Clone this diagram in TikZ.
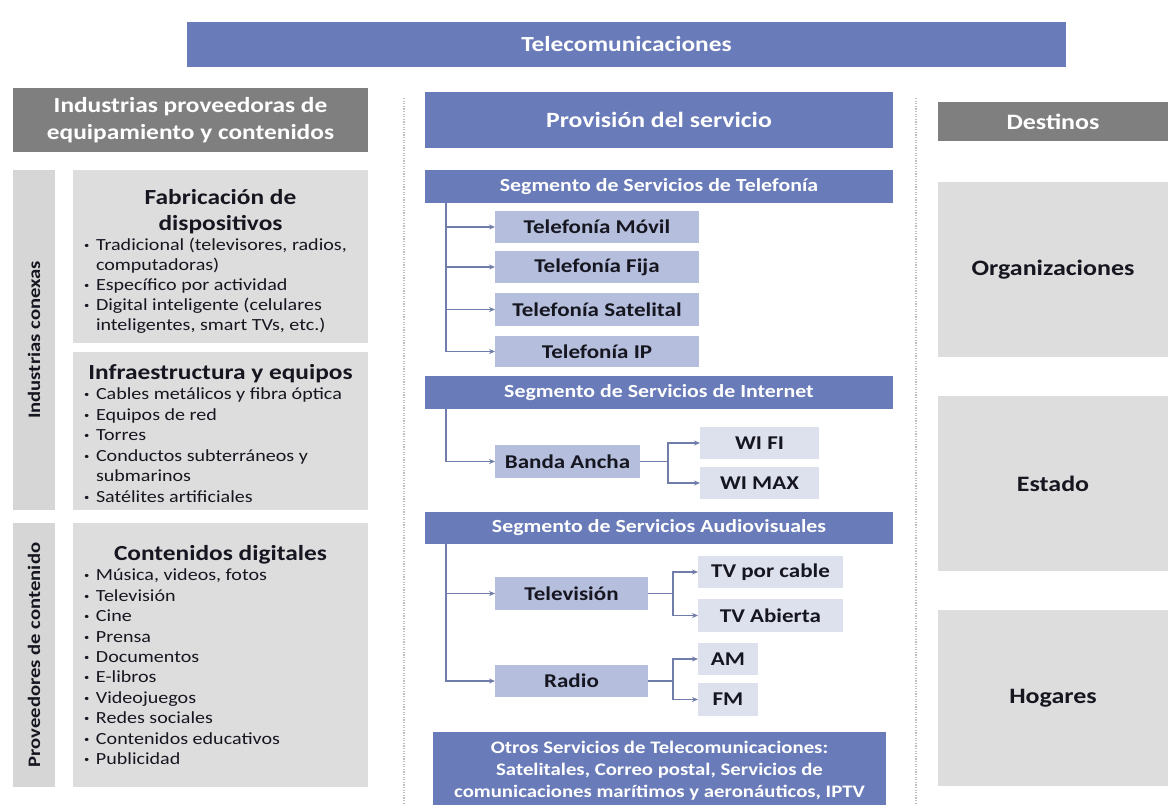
\documentclass[tikz,border=0pt]{standalone}
\usepackage{fontspec}
\setmainfont{Carlito}[FakeStretch=1.18]
\usetikzlibrary{arrows.meta}

\definecolor{hdrblue}{RGB}{105,123,184}
\definecolor{hdrgray}{RGB}{127,127,127}
\definecolor{panel}{RGB}{221,221,221}
\definecolor{sidebar}{RGB}{214,214,214}
\definecolor{itemblue}{RGB}{181,190,220}
\definecolor{itemlight}{RGB}{221,225,237}
\definecolor{connblue}{RGB}{112,124,170}
\definecolor{ink}{RGB}{22,22,32}
\definecolor{dotgray}{RGB}{190,190,190}

% bullet line with hanging indent (use \newline for continuation lines)
\newcommand{\bitem}[1]{\par\noindent\hangindent=12pt\hangafter=1%
  \makebox[12pt][l]{\raisebox{0.12em}{\fontsize{9}{9}\selectfont\textbullet}}#1}

\tikzset{
  boxbase/.style={anchor=north west, inner sep=0pt, outer sep=0pt, align=center},
  bluehdr/.style={boxbase, fill=hdrblue, text=white, font=\bfseries},
  grayhdr/.style={boxbase, fill=hdrgray, text=white, font=\bfseries},
  panelbox/.style={boxbase, fill=panel, text=ink},
  sidebox/.style={boxbase, fill=sidebar, text=ink},
  itembox/.style={boxbase, fill=itemblue, text=ink, font=\fontsize{19.5}{22}\selectfont\bfseries},
  leafbox/.style={boxbase, fill=itemlight, text=ink, font=\fontsize{19.5}{22}\selectfont\bfseries},
  seghdr/.style={bluehdr, minimum width=468pt, font=\fontsize{18.5}{22}\selectfont\bfseries},
  destbox/.style={panelbox, minimum width=230pt, font=\fontsize{22}{26}\selectfont\bfseries},
  sidelabel/.style={rotate=90, text=ink, font=\fontsize{17.5}{20}\selectfont\bfseries},
  conn/.style={draw=connblue, line width=1.5pt},
  arr/.style={conn, -{Stealth[length=6pt,width=5pt]}},
  divider/.style={draw=dotgray, line width=2.5pt, dash pattern=on 1.2pt off 1.4pt}
}

\begin{document}
\begin{tikzpicture}[x=1pt, y=-1pt]
\useasboundingbox (0,0) rectangle (1168,804);
\fill[white] (0,0) rectangle (1168,804);

% column dividers
\draw[divider] (404,98) -- (404,804);
\draw[divider] (916,98) -- (916,804);

% title
\node[bluehdr, minimum width=879pt, minimum height=45pt,
      font=\fontsize{21.5}{24}\selectfont\bfseries] (tele) at (187,22) {Telecomunicaciones};

% ---------- left column ----------
\node[grayhdr, minimum width=355pt, minimum height=64pt,
      font=\fontsize{21.5}{27}\selectfont\bfseries] (indhdr) at (13,88)
      {Industrias proveedoras de\\equipamiento y contenidos};

\node[sidebox, minimum width=42pt, minimum height=340pt] (conexas) at (13,170) {};
\node[sidelabel] (conexaslbl) at (conexas.center) {Industrias conexas};

\node[sidebox, minimum width=42pt, minimum height=264pt] (provee) at (13,523) {};
\node[sidelabel] (proveelbl) at (provee.center) {Proveedores de contenido};

\node[panelbox, minimum width=295pt, minimum height=173pt] (fab) at (73,170)
{\begin{minipage}{273pt}\raggedright
  \vspace*{10pt}
  {\centering\fontsize{21.5}{26}\selectfont\bfseries Fabricación de\\dispositivos\par}
  \fontsize{17}{20}\selectfont
  \bitem{Tradicional (televisores, radios,\newline computadoras)}
  \bitem{Específico por actividad}
  \bitem{Digital inteligente (celulares\newline inteligentes, smart TVs, etc.)}\par
\end{minipage}};

\node[panelbox, minimum width=295pt, minimum height=158pt] (infra) at (73,352)
{\begin{minipage}{273pt}\raggedright
  \vspace*{5pt}
  {\centering\fontsize{21.5}{26}\selectfont\bfseries Infraestructura y equipos\par}
  \fontsize{17}{20.5}\selectfont
  \bitem{Cables metálicos y fibra óptica}
  \bitem{Equipos de red}
  \bitem{Torres}
  \bitem{Conductos subterráneos y\newline submarinos}
  \bitem{Satélites artificiales}\par
\end{minipage}};

\node[panelbox, minimum width=295pt, minimum height=264pt] (conten) at (73,523)
{\begin{minipage}{273pt}\raggedright
  {\centering\fontsize{21.5}{26}\selectfont\bfseries Contenidos digitales\par}
  \fontsize{17}{20.4}\selectfont
  \bitem{Música, videos, fotos}
  \bitem{Televisión}
  \bitem{Cine}
  \bitem{Prensa}
  \bitem{Documentos}
  \bitem{E-libros}
  \bitem{Videojuegos}
  \bitem{Redes sociales}
  \bitem{Contenidos educativos}
  \bitem{Publicidad}\par
\end{minipage}};

% ---------- middle column ----------
\node[bluehdr, minimum width=468pt, minimum height=56pt,
      font=\fontsize{21.8}{24}\selectfont\bfseries] (provhdr) at (425,92) {Provisión del servicio};

% telephony
\node[seghdr, minimum height=33pt] (segtel) at (425,170) {Segmento de Servicios de Telefonía};
\node[itembox, minimum width=204pt, minimum height=32pt] (movil) at (495,211) {Telefonía Móvil};
\node[itembox, minimum width=204pt, minimum height=32pt] (fija)  at (495,251) {Telefonía Fija};
\node[itembox, minimum width=204pt, minimum height=33pt] (satel) at (495,293) {Telefonía Satelital};
\node[itembox, minimum width=204pt, minimum height=31pt] (tip)   at (495,336) {Telefonía IP};

\draw[arr] ([xshift=21pt]segtel.south west) |- (movil.west);
\draw[arr] ([xshift=21pt]segtel.south west) |- (fija.west);
\draw[arr] ([xshift=21pt]segtel.south west) |- (satel.west);
\draw[arr] ([xshift=21pt]segtel.south west) |- (tip.west);

% internet
\node[seghdr, minimum height=33pt] (segint) at (425,376) {Segmento de Servicios de Internet};
\node[itembox, minimum width=145pt, minimum height=33pt] (banda) at (495,445) {Banda Ancha};
\node[leafbox, minimum width=119pt, minimum height=32pt] (wifi)  at (700,427) {WI FI};
\node[leafbox, minimum width=119pt, minimum height=32pt] (wimax) at (700,467) {WI MAX};

\draw[arr] ([xshift=21pt]segint.south west) |- (banda.west);
\draw[conn] (banda.east) -- ([xshift=28pt]banda.east) coordinate (bandaj);
\draw[arr] (bandaj) |- (wifi.west);
\draw[arr] (bandaj) |- (wimax.west);

% audiovisual
\node[seghdr, minimum height=32pt] (segav) at (425,512) {Segmento de Servicios Audiovisuales};
\node[itembox, minimum width=153pt, minimum height=33pt] (tv)    at (495,577) {Televisión};
\node[itembox, minimum width=153pt, minimum height=32pt] (radio) at (495,665) {Radio};
\node[leafbox, minimum width=145pt, minimum height=32pt] (tvcab) at (698,556) {TV por cable};
\node[leafbox, minimum width=145pt, minimum height=33pt] (tvab)  at (698,599) {TV Abierta};
\node[leafbox, minimum width=60pt,  minimum height=32pt] (am)    at (698,643) {AM};
\node[leafbox, minimum width=60pt,  minimum height=33pt] (fm)    at (698,683) {FM};

\draw[arr] ([xshift=21pt]segav.south west) |- (tv.west);
\draw[arr] ([xshift=21pt]segav.south west) |- (radio.west);
\draw[conn] (tv.east) -- ([xshift=25pt]tv.east) coordinate (tvj);
\draw[arr] (tvj) |- (tvcab.west);
\draw[arr] (tvj) |- (tvab.west);
\draw[conn] (radio.east) -- ([xshift=25pt]radio.east) coordinate (radioj);
\draw[arr] (radioj) |- (am.west);
\draw[arr] (radioj) |- (fm.west);

% other services (runs past the lower edge)
\node[bluehdr, minimum width=453pt, minimum height=78pt,
      font=\fontsize{17.6}{22}\selectfont\bfseries] (otros) at (433,732)
      {Otros Servicios de Telecomunicaciones:\\Satelitales, Correo postal, Servicios de\\comunicaciones marítimos y aeronáuticos, IPTV};

% ---------- right column ----------
\node[grayhdr, minimum width=230pt, minimum height=39pt,
      font=\fontsize{22}{26}\selectfont\bfseries] (dest) at (938,102) {Destinos};
\node[destbox, minimum height=175pt] (org)    at (938,182) {Organizaciones};
\node[destbox, minimum height=175pt] (estado) at (938,396) {Estado};
\node[destbox, minimum height=176pt] (hogar)  at (938,610) {Hogares};
\end{tikzpicture}
\end{document}
